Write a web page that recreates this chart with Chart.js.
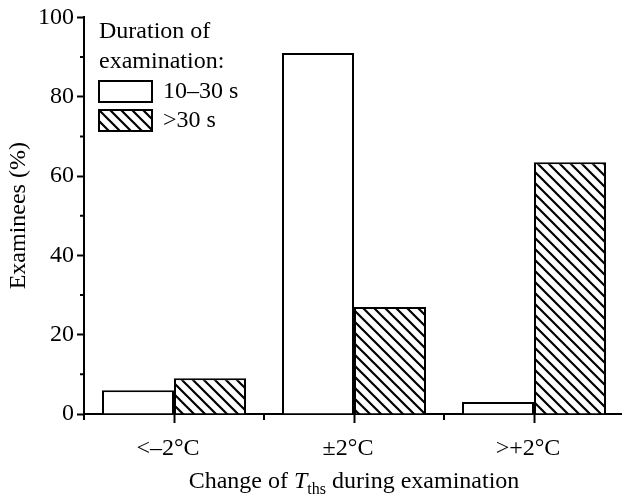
<!DOCTYPE html>
<html>
<head>
<meta charset="utf-8">
<script src="https://cdn.jsdelivr.net/npm/chart.js@4.4.1/dist/chart.umd.min.js"></script>
<style>
  html, body { margin: 0; padding: 0; background: #fff; overflow: hidden; }
  #wrap { width: 622px; height: 496px; overflow: hidden; }
</style>
</head>
<body>
<div id="wrap"><canvas id="chart" width="626" height="496"></canvas></div>
<script>
const categories = ["<–2°C", "±2°C", ">+2°C"];
const seriesNames = ["10–30 s", ">30 s"];
const shortExam = [6, 91, 3];
const longExam = [9, 27, 63.5];
const legendTitle = ["Duration of", "examination:"];
const yTitle = "Examinees (%)";

const FONT = '"Liberation Serif", "Times New Roman", serif';

function hatch() {
  const c = document.createElement("canvas");
  c.width = c.height = 11;
  const g = c.getContext("2d");
  g.fillStyle = "#fff";
  g.fillRect(0, 0, 11, 11);
  g.strokeStyle = "#000";
  g.lineWidth = 2.2;
  g.beginPath();
  g.moveTo(-2, -2); g.lineTo(13, 13);
  g.moveTo(-2, 9); g.lineTo(2, 13);
  g.moveTo(9, -2); g.lineTo(13, 2);
  g.stroke();
  return g.createPattern(c, "repeat");
}

const ctx = document.getElementById("chart").getContext("2d");
const stripes = hatch();
const fills = ["#fff", stripes];

// minor ticks, legend and the x title with its italic T and subscript
const extras = {
  id: "extras",
  afterDraw(chart) {
    const { ctx: g, scales: { x, y } } = chart;
    g.save();
    g.strokeStyle = "#000";
    g.lineWidth = 2;
    g.beginPath();
    for (let v = 10; v < 100; v += 20) {
      const py = y.getPixelForValue(v);
      g.moveTo(y.right - 4, py); g.lineTo(y.right, py);
    }
    const base = x.top;
    const bounds = [x.left];
    for (let i = 1; i < categories.length; i++) {
      bounds.push((x.getPixelForTick(i - 1) + x.getPixelForTick(i)) / 2);
    }
    bounds.push(x.right);
    for (const bx of bounds) {
      g.moveTo(bx, base); g.lineTo(bx, base + 6);
    }
    g.stroke();

    // legend
    g.fillStyle = "#000";
    g.font = `24px ${FONT}`;
    g.textBaseline = "middle";
    g.fillText(legendTitle[0], 99, 32);
    g.fillText(legendTitle[1], 99, 62);
    seriesNames.forEach((name, i) => {
      const top = 81 + i * 29;
      g.fillStyle = fills[i];
      g.fillRect(99, top, 53, 21);
      g.strokeRect(99, top, 53, 21);
      g.fillStyle = "#000";
      g.fillText(name, 163, top + 11);
    });

    // x title
    const parts = [
      { t: "Change of ", f: `24px ${FONT}`, dy: 0 },
      { t: "T", f: `italic 24px ${FONT}`, dy: 0 },
      { t: "ths", f: `16px ${FONT}`, dy: 6 },
      { t: " during examination", f: `24px ${FONT}`, dy: 0 },
    ];
    let total = 0;
    for (const p of parts) { g.font = p.f; p.w = g.measureText(p.t).width; total += p.w; }
    let px = 354 - total / 2;
    g.textBaseline = "alphabetic";
    for (const p of parts) {
      g.font = p.f;
      g.fillText(p.t, px, 488 + p.dy);
      px += p.w;
    }
    g.restore();
  },
};

new Chart(ctx, {
  type: "bar",
  plugins: [extras],
  data: {
    labels: categories,
    datasets: [
      {
        label: seriesNames[0],
        data: shortExam,
        backgroundColor: fills[0],
        borderColor: "#000",
        borderWidth: 2,
      },
      {
        label: seriesNames[1],
        data: longExam,
        backgroundColor: fills[1],
        borderColor: "#000",
        borderWidth: 2,
      },
    ],
  },
  options: {
    responsive: false,
    animation: false,
    devicePixelRatio: 1,
    layout: { padding: { top: 14, right: 2, left: 0, bottom: 0 } },
    datasets: { bar: { barPercentage: 1, categoryPercentage: 0.8 } },
    plugins: { legend: { display: false }, tooltip: { enabled: false } },
    scales: {
      x: {
        grid: { drawOnChartArea: false, offset: false, tickLength: 9, tickWidth: 2, color: "#000" },
        border: { color: "#000", width: 2 },
        ticks: { color: "#000", font: { family: FONT, size: 24 }, padding: 11, labelOffset: -6, maxRotation: 0 },
        afterFit: (s) => { s.height = 82; },
      },
      y: {
        min: 0,
        max: 100,
        ticks: { stepSize: 20, color: "#000", font: { family: FONT, size: 24 }, padding: 3 },
        grid: { drawOnChartArea: false, tickLength: 7, tickWidth: 2, color: "#000" },
        border: { color: "#000", width: 2 },
        title: { display: true, text: yTitle, color: "#000", font: { family: FONT, size: 24 }, padding: { top: 4, bottom: 0 } },
        afterFit: (s) => { s.width = 84; },
      },
    },
  },
});
</script>
</body>
</html>
